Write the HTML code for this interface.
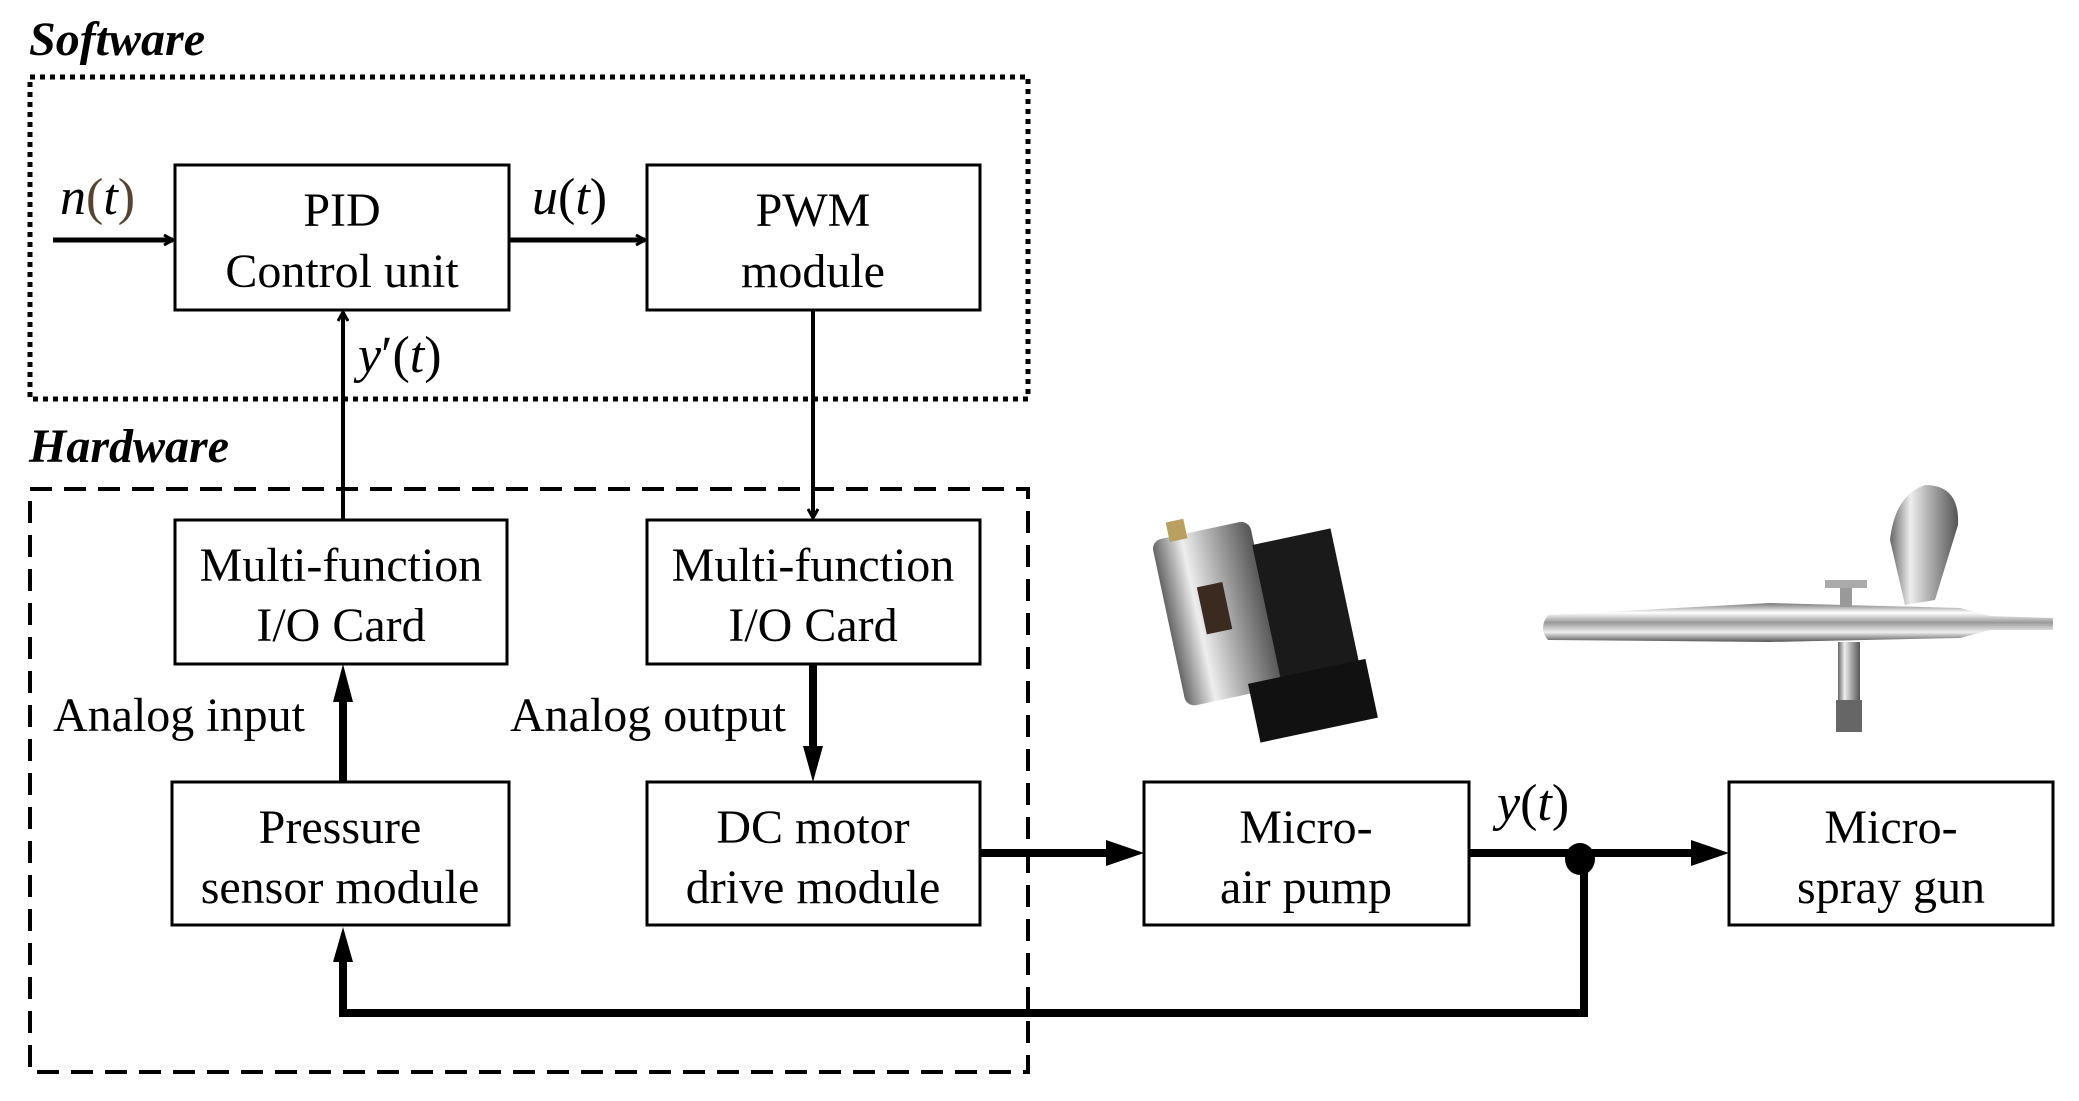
<!DOCTYPE html>
<html><head><meta charset="utf-8"><style>
html,body{margin:0;padding:0;background:#fff;}
svg{display:block;}
text{font-family:"Liberation Serif",serif;fill:#000;}
.b{font-size:48px;text-anchor:middle;}
.m{font-size:52px;font-style:italic;}
.h{font-size:48px;font-style:italic;font-weight:bold;}
</style></head><body>
<svg width="2079" height="1101" viewBox="0 0 2079 1101" xmlns="http://www.w3.org/2000/svg">
<defs>
<marker id="a" markerWidth="12" markerHeight="12" refX="10" refY="6" orient="auto" markerUnits="userSpaceOnUse" viewBox="0 0 12 12"><path d="M1,1 L10,6 L1,11" fill="none" stroke="#000" stroke-width="3"/></marker>
<linearGradient id="sil" x1="0" y1="0" x2="0" y2="1"><stop offset="0" stop-color="#777"/><stop offset="0.25" stop-color="#fff"/><stop offset="0.5" stop-color="#999"/><stop offset="0.75" stop-color="#eee"/><stop offset="1" stop-color="#555"/></linearGradient>
<linearGradient id="sil2" x1="0" y1="0" x2="1" y2="0"><stop offset="0" stop-color="#666"/><stop offset="0.3" stop-color="#eee"/><stop offset="0.6" stop-color="#aaa"/><stop offset="1" stop-color="#555"/></linearGradient>
</defs>

<text class="h" x="29" y="55">Software</text>
<rect x="30" y="77" width="998" height="322" fill="none" stroke="#000" stroke-width="5" stroke-dasharray="5 5"/>

<text class="h" x="29" y="462">Hardware</text>
<rect x="30" y="489" width="998" height="583" fill="none" stroke="#000" stroke-width="4" stroke-dasharray="22 12"/>

<g fill="#fff" stroke="#000" stroke-width="3">
<rect x="175" y="165" width="334" height="145"/>
<rect x="647" y="165" width="333" height="145"/>
<rect x="175" y="520" width="332" height="144"/>
<rect x="647" y="520" width="333" height="144"/>
<rect x="172" y="782" width="337" height="143"/>
<rect x="647" y="782" width="333" height="143"/>
<rect x="1144" y="782" width="325" height="143"/>
<rect x="1729" y="782" width="324" height="143"/>
</g>

<text class="b" x="342" y="226">PID</text>
<text class="b" x="342" y="287">Control unit</text>
<text class="b" x="813" y="226">PWM</text>
<text class="b" x="813" y="287">module</text>
<text class="b" x="341" y="581">Multi-function</text>
<text class="b" x="341" y="641">I/O Card</text>
<text class="b" x="813" y="581">Multi-function</text>
<text class="b" x="813" y="641">I/O Card</text>
<text class="b" x="340" y="843">Pressure</text>
<text class="b" x="340" y="903">sensor module</text>
<text class="b" x="813" y="843">DC motor</text>
<text class="b" x="813" y="903">drive module</text>
<text class="b" x="1306" y="843">Micro-</text>
<text class="b" x="1306" y="903">air pump</text>
<text class="b" x="1891" y="843">Micro-</text>
<text class="b" x="1891" y="903">spray gun</text>

<text style="font-size:48px" x="53" y="731">Analog input</text>
<text style="font-size:48px" x="510" y="731">Analog output</text>

<text class="m" x="60" y="214">n<tspan font-style="normal" fill="#543">(</tspan>t<tspan font-style="normal" fill="#543">)</tspan></text>
<text class="m" x="532" y="214">u<tspan font-style="normal">(</tspan>t<tspan font-style="normal">)</tspan></text>
<text class="m" x="358" y="372">y<tspan font-style="normal">′(</tspan>t<tspan font-style="normal">)</tspan></text>
<text class="m" x="1497" y="820">y<tspan font-style="normal">(</tspan>t<tspan font-style="normal">)</tspan></text>

<g stroke="#000" fill="none">
<line x1="53" y1="240" x2="173" y2="240" stroke-width="5" marker-end="url(#a)"/>
<line x1="509" y1="240" x2="645" y2="240" stroke-width="5" marker-end="url(#a)"/>
<line x1="343" y1="520" x2="343" y2="312" stroke-width="4" marker-end="url(#a)"/>
<line x1="813" y1="310" x2="813" y2="518" stroke-width="4" marker-end="url(#a)"/>
<line x1="343" y1="782" x2="343" y2="700" stroke-width="8"/>
<line x1="813" y1="664" x2="813" y2="748" stroke-width="8"/>
<line x1="980" y1="853" x2="1110" y2="853" stroke-width="8"/>
<line x1="1469" y1="853" x2="1695" y2="853" stroke-width="8"/>
<polyline points="1584,853 1584,1013 343,1013 343,958" stroke-width="8"/>
</g>
<g fill="#000">
<polygon points="343,664 333,702 353,702"/>
<polygon points="813,782 803,746 823,746"/>
<polygon points="1144,853 1106,840 1106,866"/>
<polygon points="1729,853 1691,840 1691,866"/>
<polygon points="343,927 333,962 353,962"/>
<ellipse cx="1580" cy="859" rx="15" ry="16"/>
</g>

<!-- pump image -->
<g transform="rotate(-12 1260 620)">
<rect x="1170" y="520" width="100" height="170" rx="10" fill="url(#sil2)"/>
<rect x="1205" y="575" width="26" height="48" fill="#3a2a20"/>
<rect x="1268" y="545" width="80" height="140" fill="#1a1a1a"/>
<rect x="1235" y="680" width="120" height="60" fill="#111"/>
<rect x="1188" y="505" width="18" height="20" fill="#b9a060"/>
</g>

<!-- spray gun image -->
<g>
<path d="M1548,615 Q1538,628 1548,640 L1770,642 L1960,638 L1990,630 L2053,630 L2053,618 L1990,616 L1960,608 L1770,603 Z" fill="url(#sil)"/>
<path d="M1905,605 L1890,540 Q1895,495 1925,485 Q1960,485 1958,525 L1935,600 Z" fill="url(#sil2)"/>
<rect x="1840" y="585" width="12" height="22" fill="#999"/>
<rect x="1825" y="580" width="42" height="8" fill="#aaa"/>
<rect x="1838" y="642" width="22" height="60" fill="url(#sil2)"/>
<rect x="1836" y="700" width="26" height="32" fill="#666"/>
</g>
</svg>
</body></html>
